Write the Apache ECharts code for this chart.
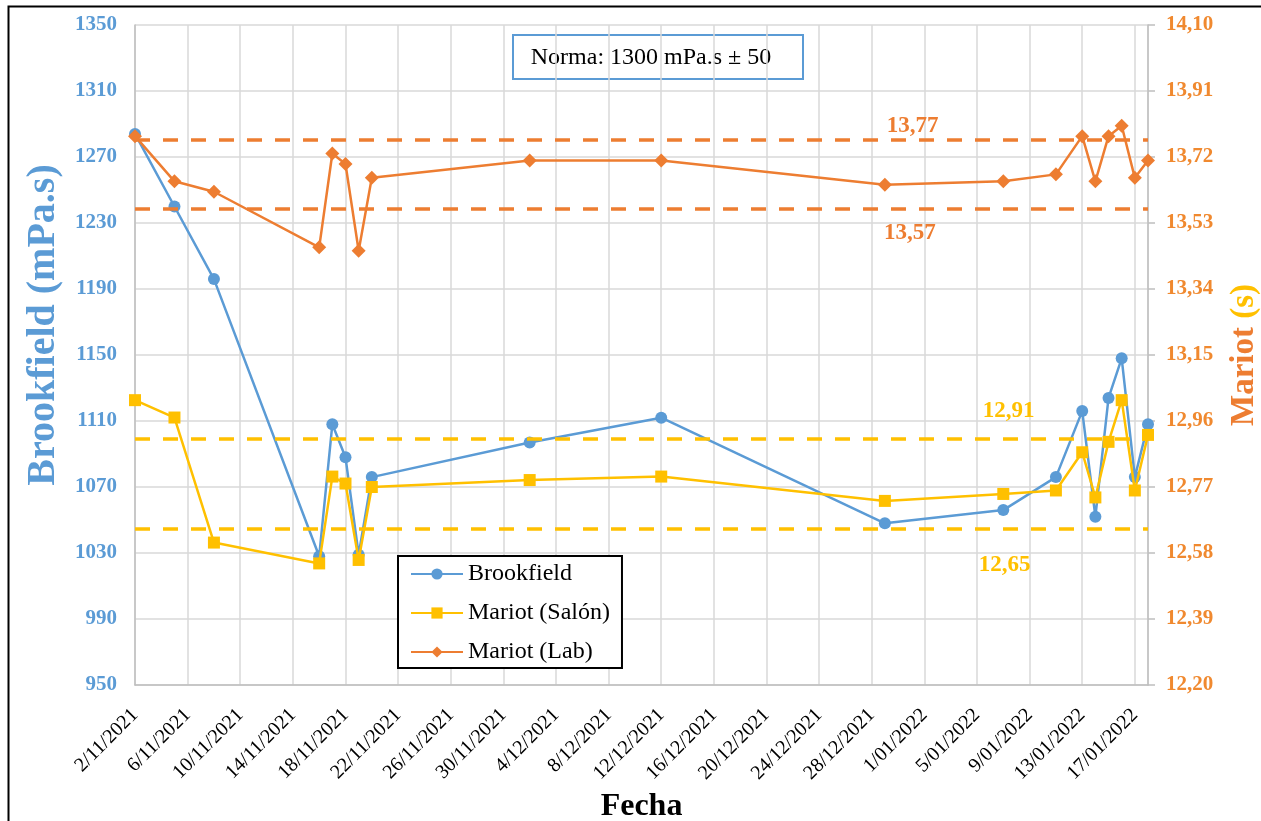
<!DOCTYPE html>
<html>
<head>
<meta charset="utf-8">
<script src="https://cdn.jsdelivr.net/npm/echarts@6/dist/echarts.min.js"></script>
<style>
  html, body { margin: 0; padding: 0; background: #fff; }
  #chart { width: 1261px; height: 821px; }
</style>
</head>
<body>
<div id="chart"></div>
<script>
// Fechas de muestreo
const fechas = [
  '2/11/2021', '5/11/2021', '8/11/2021', '16/11/2021', '17/11/2021', '18/11/2021',
  '19/11/2021', '20/11/2021', '2/12/2021', '12/12/2021', '29/12/2021', '7/01/2022',
  '11/01/2022', '13/01/2022', '14/01/2022', '15/01/2022', '16/01/2022', '17/01/2022',
  '18/01/2022'
];
// Viscosidad Brookfield (mPa.s)
const brookfield = [
  1284, 1240, 1196, 1028, 1108, 1088, 1029, 1076, 1097, 1112,
  1048, 1056, 1076, 1116, 1052, 1124, 1148, 1076, 1108
];
// Tiempo Mariot medido en salón (s)
const mariotSalon = [
  13.02, 12.97, 12.61, 12.55, 12.80, 12.78, 12.56, 12.77, 12.79, 12.80,
  12.73, 12.75, 12.76, 12.87, 12.74, 12.90, 13.02, 12.76, 12.92
];
// Tiempo Mariot medido en laboratorio (s)
const mariotLab = [
  13.78, 13.65, 13.62, 13.46, 13.73, 13.70, 13.45, 13.66, 13.71, 13.71,
  13.64, 13.65, 13.67, 13.78, 13.65, 13.78, 13.81, 13.66, 13.71
];
// Límites de control (s)
const limitesLab = [13.77, 13.57];
const limitesSalon = [12.91, 12.65];
const textoNorma = 'Norma: 1300 mPa.s ± 50';

const AZUL = '#5B9BD5', AMARILLO = '#FFC000', NARANJA = '#ED7D31';
const SERIF = '"Liberation Serif", "Times New Roman", serif';

// Eje de fechas: días contados desde el 2/11/2021
const ORIGEN = Date.UTC(2021, 10, 2);
const DIA = 86400000;
function diaDe(s) {
  const [d, m, a] = s.split('/').map(Number);
  return Math.round((Date.UTC(a, m - 1, d) - ORIGEN) / DIA);
}
function fechaDe(n) {
  const f = new Date(ORIGEN + Math.round(n) * DIA);
  return f.getUTCDate() + '/' + String(f.getUTCMonth() + 1).padStart(2, '0') + '/' + f.getUTCFullYear();
}
const coma = v => v.toFixed(2).replace('.', ',');
const entero = v => String(Math.round(v));
const pares = vals => fechas.map((f, i) => [diaDe(f), vals[i]]);
const diaFinal = diaDe(fechas[fechas.length - 1]);

const chart = echarts.init(document.getElementById('chart'));

const guion = { type: [15, 13], width: 3.5 };
const etiquetaLimite = (valor, color, dia, dy) => ({
  coord: [dia, valor],
  name: coma(valor),
  label: { color: color, offset: [0, dy] }
});

chart.setOption({
  animation: false,
  backgroundColor: '#fff',
  grid: { left: 135, right: 113, top: 25, bottom: 136, outerBoundsMode: 'none', containLabel: false },
  xAxis: {
    type: 'value',
    min: 0,
    max: diaFinal,
    interval: 4,
    name: 'Fecha',
    nameLocation: 'middle',
    nameGap: 102,
    nameTextStyle: { fontFamily: SERIF, fontSize: 32, fontWeight: 'bold', color: '#000' },
    axisLine: { lineStyle: { color: '#BFBFBF', width: 1.5 } },
    axisTick: { show: false },
    axisLabel: {
      rotate: 45,
      margin: 27,
      showMaxLabel: false,
      fontFamily: SERIF,
      fontSize: 20,
      color: '#000',
      formatter: fechaDe
    },
    splitLine: { show: true, lineStyle: { color: '#D9D9D9', width: 1.5 } }
  },
  yAxis: [
    {
      type: 'value',
      min: 950,
      max: 1350,
      interval: 40,
      name: 'Brookfield (mPa.s)',
      nameLocation: 'middle',
      nameRotate: 90,
      nameGap: 62,
      nameTextStyle: {
        fontFamily: SERIF, fontSize: 40, fontWeight: 'bold', color: AZUL,
        padding: [0, 0, 0, 60]
      },
      axisLine: { show: true, lineStyle: { color: '#BFBFBF', width: 1.5 } },
      axisTick: { show: false },
      axisLabel: {
        margin: 18, fontFamily: SERIF, fontSize: 21, fontWeight: 'bold', color: AZUL,
        formatter: entero
      },
      splitLine: { show: true, lineStyle: { color: '#D9D9D9', width: 1.5 } }
    },
    {
      type: 'value',
      position: 'right',
      min: 12.2,
      max: 14.1,
      interval: 0.19,
      name: '{a|Mariot} {b|(s)}',
      nameLocation: 'middle',
      nameRotate: 90,
      nameGap: 80,
      nameTextStyle: {
        fontFamily: SERIF, fontSize: 33, fontWeight: 'bold',
        rich: {
          a: { fontFamily: SERIF, fontSize: 33, fontWeight: 'bold', color: NARANJA },
          b: { fontFamily: SERIF, fontSize: 33, fontWeight: 'bold', color: AMARILLO }
        }
      },
      axisLine: { show: true, lineStyle: { color: '#BFBFBF', width: 1.5 } },
      axisTick: { show: true, inside: false, length: 7, lineStyle: { color: '#BFBFBF', width: 1.5 } },
      axisLabel: {
        margin: 18, fontFamily: SERIF, fontSize: 21, fontWeight: 'bold', color: '#F0892F',
        formatter: coma
      },
      splitLine: { show: false }
    }
  ],
  legend: {
    data: ['Brookfield', 'Mariot (Salón)', 'Mariot (Lab)'],
    orient: 'vertical',
    left: 398,
    top: 556,
    padding: [6, 12, 4, 12],
    itemWidth: 52,
    itemHeight: 14,
    itemGap: 15,
    backgroundColor: '#fff',
    borderColor: '#000',
    borderWidth: 2,
    textStyle: { fontFamily: SERIF, fontSize: 24, color: '#000' }
  },
  series: [
    {
      name: 'Límites',
      type: 'line',
      yAxisIndex: 1,
      data: [],
      z: 1,
      silent: true,
      markLine: {
        symbol: 'none',
        silent: true,
        label: { show: false },
        data: [
          { yAxis: limitesLab[0], lineStyle: Object.assign({ color: NARANJA }, guion) },
          { yAxis: limitesLab[1], lineStyle: Object.assign({ color: NARANJA }, guion) },
          { yAxis: limitesSalon[0], lineStyle: Object.assign({ color: AMARILLO }, guion) },
          { yAxis: limitesSalon[1], lineStyle: Object.assign({ color: AMARILLO }, guion) }
        ]
      },
      markPoint: {
        symbol: 'circle',
        symbolSize: 1,
        silent: true,
        itemStyle: { color: 'rgba(0,0,0,0)' },
        label: {
          show: true,
          position: 'inside',
          formatter: '{b}',
          fontFamily: SERIF,
          fontSize: 23,
          fontWeight: 'bold'
        },
        data: [
          etiquetaLimite(limitesLab[0], NARANJA, 59.1, -14),
          etiquetaLimite(limitesLab[1], NARANJA, 58.9, 24),
          etiquetaLimite(limitesSalon[0], AMARILLO, 66.4, -27),
          etiquetaLimite(limitesSalon[1], AMARILLO, 66.1, 36)
        ]
      }
    },
    {
      name: 'Brookfield',
      type: 'line',
      yAxisIndex: 0,
      data: pares(brookfield),
      symbol: 'circle',
      symbolSize: 12,
      z: 3,
      itemStyle: { color: AZUL },
      lineStyle: { color: AZUL, width: 2.5 }
    },
    {
      name: 'Mariot (Salón)',
      type: 'line',
      yAxisIndex: 1,
      data: pares(mariotSalon),
      symbol: 'rect',
      symbolSize: 12,
      z: 4,
      itemStyle: { color: AMARILLO },
      lineStyle: { color: AMARILLO, width: 2.5 }
    },
    {
      name: 'Mariot (Lab)',
      type: 'line',
      yAxisIndex: 1,
      data: pares(mariotLab),
      symbol: 'diamond',
      symbolSize: 14,
      z: 5,
      itemStyle: { color: NARANJA },
      lineStyle: { color: NARANJA, width: 2.5 }
    }
  ],
  graphic: [
    {
      type: 'rect',
      shape: { x: 8.5, y: 6.5, width: 1300, height: 900 },
      style: { fill: 'none', stroke: '#000', lineWidth: 2 },
      silent: true,
      z: 100
    },
    {
      type: 'group',
      left: 512, top: 34,
      z: 100,
      children: [
        {
          type: 'rect',
          shape: { width: 290, height: 44 },
          style: { fill: '#fff', stroke: AZUL, lineWidth: 2 }
        },
        {
          type: 'text',
          x: 138, y: 23,
          style: {
            text: textoNorma,
            font: '24px ' + SERIF,
            fill: '#000',
            align: 'center',
            verticalAlign: 'middle'
          }
        }
      ]
    }
  ]
});
</script>
</body>
</html>
